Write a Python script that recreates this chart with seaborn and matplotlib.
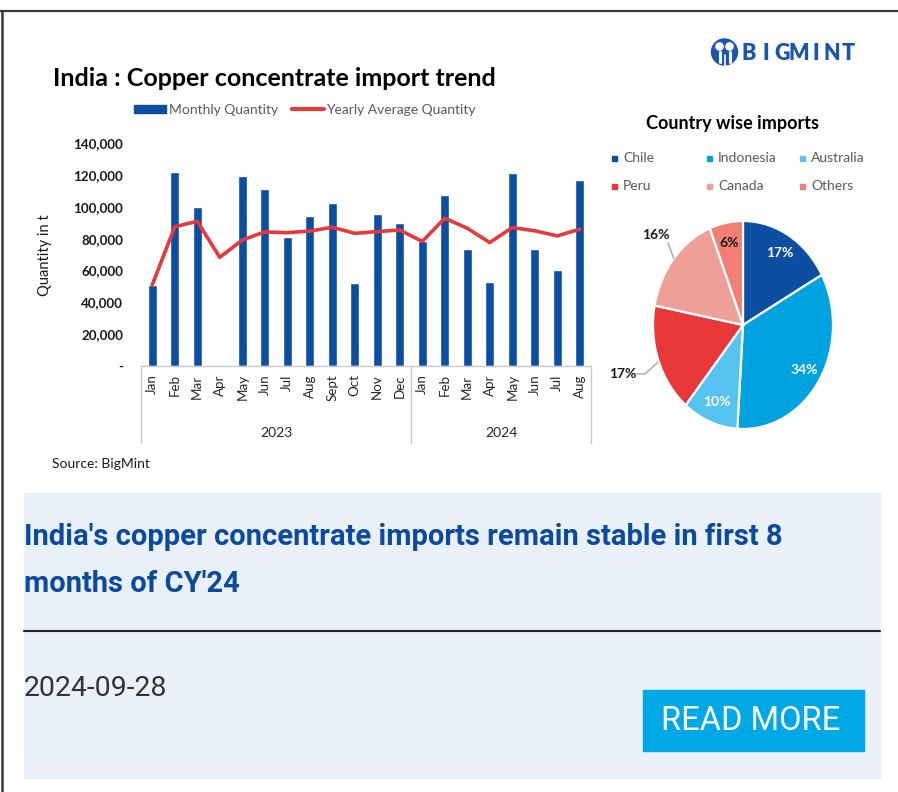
import numpy as np
import pandas as pd
import seaborn as sns
import matplotlib.pyplot as plt
from matplotlib.patches import Patch, Rectangle, Circle
from matplotlib.lines import Line2D
from matplotlib.transforms import blended_transform_factory

# ---- data -------------------------------------------------------------
years = ["2023"] * 12 + ["2024"] * 8
months = ["Jan", "Feb", "Mar", "Apr", "May", "Jun", "Jul", "Aug", "Sept", "Oct", "Nov", "Dec",
          "Jan", "Feb", "Mar", "Apr", "May", "Jun", "Jul", "Aug"]
monthly_qty = [51000, 122000, 100000, 0, 119500, 111000, 81000, 94600, 102500, 52000, 95800, 90100,
               78500, 107500, 73500, 52800, 121200, 73500, 60600, 117200]
yearly_avg = [51000, 87500, 91000, 68300, 79200, 84300, 83800, 84800, 87200, 83400, 84500, 85500,
              78300, 92900, 86600, 77600, 87000, 85000, 81800, 86000]
y_ticks = [0, 20000, 40000, 60000, 80000, 100000, 120000, 140000]

countries = ["Chile", "Indonesia", "Australia", "Peru", "Canada", "Others"]
shares = [17, 34, 10, 17, 16, 6]

BLUE = "#0B4EA2"
RED = "#E8383A"
pie_colors = ["#0B4EA2", "#00A3DF", "#56C3F0", "#E8383A", "#EE9F98", "#F27F74"]
GREY_TXT = "#595959"

sns.set_theme(style="white")
plt.rcParams["font.family"] = ["Lato", "DejaVu Sans"]

W, H = 898, 792
fig = plt.figure(figsize=(W / 100, H / 100), dpi=100)
fig.patch.set_facecolor("white")


def fx(px):
    return px / W


def fy(py):
    return 1 - py / H


# ---- pixel overlay for frame, panels and decorations -----------------
bg = fig.add_axes([0, 0, 1, 1], zorder=0)
bg.set_xlim(0, W)
bg.set_ylim(H, 0)
bg.axis("off")
bg.patch.set_visible(False)

bg.plot([0, W], [11, 11], color="#3a3a3a", lw=1.6, solid_capstyle="butt")
bg.plot([2, 2], [11, H], color="#3a3a3a", lw=1.8, solid_capstyle="butt")

# logo
bg.add_patch(Circle((724.5, 52), 13, color="#1A56B0"))
for hx in (719.5, 729.5):
    bg.add_patch(Circle((hx, 46.5), 3.6, color="white"))
    bg.plot([hx, hx], [52, 62], color="white", lw=2.2)
bg.plot([724.5, 724.5], [55, 66], color="white", lw=1.2)
for i, ch in enumerate("BIGMINT"):
    bg.text(749 + 16.6 * i, 53, ch, fontsize=15.5, fontweight="heavy", color="#1A56B0",
            ha="center", va="center", family=["Lato", "DejaVu Sans"])

# ---- bar + line chart --------------------------------------------------
df = pd.DataFrame({
    "period": [f"{y}-{m}" for y, m in zip(years, months)],
    "month": months,
    "qty": monthly_qty,
    "avg": yearly_avg,
    "pos": np.arange(len(months)),
})

ax = fig.add_axes([fx(141), fy(366), fx(591) - fx(141), (366 - 143.3) / H], zorder=2)
ax.patch.set_visible(False)
sns.barplot(data=df, x="period", y="qty", color=BLUE, saturation=1, width=0.42, ax=ax)
sns.lineplot(data=df, x="pos", y="avg", color=RED, lw=2.6, ax=ax, legend=False)
ax.set_xlim(-0.5, len(months) - 0.5)
ax.set_ylim(0, 140000)
ax.set_xlabel("")
ax.set_ylabel("")
ax.set_yticks(y_ticks)
ax.set_yticklabels(["-" if v == 0 else f"{v:,}" for v in y_ticks],
                   fontsize=9.6, fontweight="bold", color="#1a1a1a")
ax.set_xticks(df["pos"])
ax.set_xticklabels(df["month"], rotation=90, fontsize=9.6, color="#262626")
ax.tick_params(axis="both", length=0)
ax.tick_params(axis="y", pad=13)
ax.tick_params(axis="x", pad=6)
for s in ("top", "right", "left"):
    ax.spines[s].set_visible(False)
ax.spines["bottom"].set_color("#C8C8C8")
ax.spines["bottom"].set_linewidth(1.0)

# two-level category axis: separators and year labels
tr = blended_transform_factory(ax.transData, ax.transAxes)
drop = (443 - 366) / (366 - 143.3)
year_edges = [-0.5, 11.5, 19.5]
for xe in year_edges:
    ax.plot([xe, xe], [0, -drop], color="#C8C8C8", lw=1.0, transform=tr, clip_on=False)
for yr, xc in (("2023", 5.5), ("2024", 15.5)):
    ax.text(xc, -(433 - 366) / (366 - 143.3), yr, transform=tr, ha="center", va="center",
            fontsize=10, color="#262626")

fig.text(fx(53), fy(79), "India : Copper concentrate import trend", fontsize=18,
         fontweight="bold", color="black", va="center", ha="left")
fig.text(fx(45), fy(255), "Quantity in t", rotation=90, fontsize=10.5, color="#1a1a1a",
         ha="center", va="center")
fig.text(fx(52), fy(464), "Source: BigMint", fontsize=10, color="#1a1a1a", ha="left", va="center")

handles = [Patch(facecolor=BLUE, edgecolor=BLUE),
           Line2D([0], [0], color=RED, lw=3)]
leg = fig.legend(handles, ["Monthly Quantity", "Yearly Average Quantity"], loc="center",
                 bbox_to_anchor=(fx(305), fy(110)), ncol=2, frameon=False, fontsize=10,
                 handlelength=2.3, handleheight=0.55, handletextpad=0.2, columnspacing=1.0,
                 labelcolor=GREY_TXT)

# ---- pie chart -----------------------------------------------------------
pax = fig.add_axes([fx(653), fy(429), 180 / W, 208 / H], zorder=2)
wedges, _ = pax.pie(shares, colors=pie_colors, startangle=90, counterclock=False,
                    wedgeprops=dict(edgecolor="white", linewidth=1.6))
pax.set_aspect("auto")
pax.set_xlim(-1, 1)
pax.set_ylim(-1, 1)

outside = {"Peru": ((-1.34, -0.47), [(-0.944, -0.356), (-1.089, -0.471), (-1.18, -0.471)]),
           "Canada": ((-0.97, 0.87), [(-0.77, 0.64), (-0.833, 0.79)])}
for w, name, pct in zip(wedges, countries, shares):
    mid = np.deg2rad((w.theta1 + w.theta2) / 2)
    if name in outside:
        (tx, ty), pts = outside[name]
        xs, ys = zip(*pts)
        pax.plot(xs, ys, color="#A6A6A6", lw=1.0, clip_on=False)
        pax.text(tx, ty, f"{pct}%", ha="center", va="center", fontsize=10,
                 fontweight="bold", color="#1a1a1a", clip_on=False)
    else:
        r = 0.8
        col = "#1a1a1a" if name == "Others" else "white"
        pax.text(r * np.cos(mid), r * np.sin(mid), f"{pct}%", ha="center", va="center",
                 fontsize=10, fontweight="bold", color=col)

fig.text(fx(733), fy(124), "Country wise imports", fontsize=13, fontweight="bold",
         color="black", ha="center", va="center")
leg_cols = [614, 709, 802]
leg_rows = [158, 186]
for i, (name, col) in enumerate(zip(countries, pie_colors)):
    cx = leg_cols[i % 3]
    cy = leg_rows[i // 3]
    bg.add_patch(Rectangle((cx - 2.5, cy - 2.5), 5, 5, color=col))
    bg.text(cx + 9, cy, name, fontsize=10, color=GREY_TXT, ha="left", va="center")

# ---- article card ---------------------------------------------------------
bg.add_patch(Rectangle((24, 493), 856, 285, color="#EAF0F8", zorder=0))
card_font = ["Roboto", "DejaVu Sans"]
bg.text(24, 537, "India's copper concentrate imports remain stable in first 8", fontsize=21,
        fontweight="bold", color="#0B4A9E", ha="left", va="center", family=card_font)
bg.text(24, 584, "months of CY'24", fontsize=21, fontweight="bold", color="#0B4A9E",
        ha="left", va="center", family=card_font)
bg.plot([24, 880], [631, 631], color="#222222", lw=1.5)
bg.text(24, 688, "2024-09-28", fontsize=20.5, color="#333333", ha="left", va="center",
        family=card_font)
bg.add_patch(Rectangle((643, 690), 221, 61, color="#00A8E6", zorder=1))
bg.text(751, 721, "READ MORE", fontsize=23.5, color="white", ha="center", va="center",
        family=card_font, zorder=2)

fig.savefig("out.png", dpi=100, facecolor="white")
